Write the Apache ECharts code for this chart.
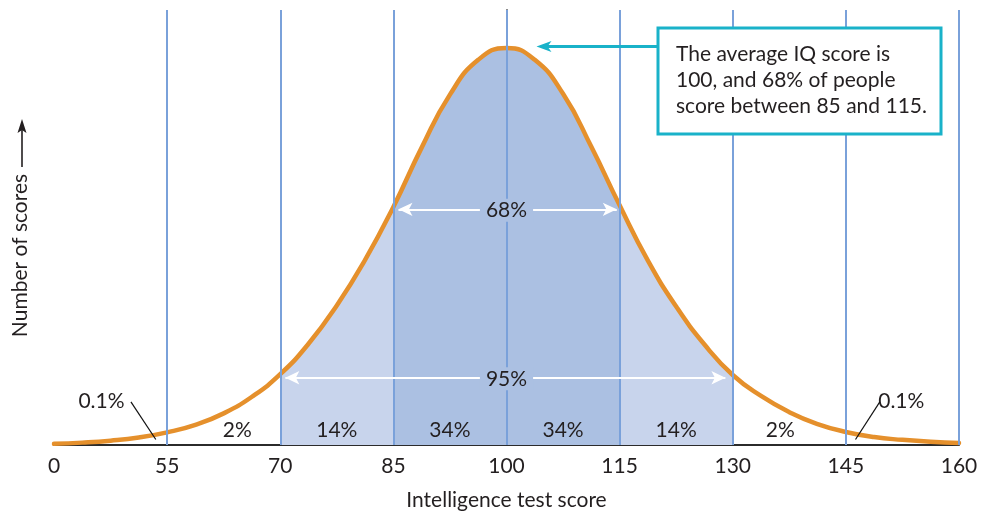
<!DOCTYPE html>
<html>
<head>
<meta charset="utf-8">
<title>Distribution of IQ scores</title>
<script src="https://cdn.jsdelivr.net/npm/echarts@6/dist/echarts.min.js"></script>
<style>
  html, body { margin: 0; padding: 0; background: #ffffff; }
  #chart { width: 983px; height: 516px; }
</style>
</head>
<body>
<div id="chart"></div>
<script>
// Score axis in standard deviations from the mean (mean 100, SD 15).
const sigmaSteps = [-4, -3.75, -3.5, -3.25, -3, -2.75, -2.5, -2.25, -2, -1.75, -1.5, -1.25, -1, -0.75, -0.5, -0.25,
                    0, 0.25, 0.5, 0.75, 1, 1.25, 1.5, 1.75, 2, 2.25, 2.5, 2.75, 3, 3.25, 3.5, 3.75, 4];
// Relative number of scores at each step (peak about 100).
const curveHeights = [0.3, 0.6, 1.1, 1.9, 3.2, 5.1, 8.0, 12.2, 17.9, 25.6, 35.3, 46.8, 60.2, 75.2, 88.6, 97.4,
                      100.4, 97.4, 88.8, 75.4, 60.6, 46.6, 35.0, 25.4, 17.7, 12.4, 8.3, 5.3, 3.3, 2.0, 1.3, 0.8, 0.5];
const tickPositions = [-4, -3, -2, -1, 0, 1, 2, 3, 4];
const tickLabels = ['0', '55', '70', '85', '100', '115', '130', '145', '160'];
const bandShares = ['2%', '14%', '34%', '34%', '14%', '2%'];
const tailShare = '0.1%';
const rangeShares = ['68%', '95%'];
const calloutText = ['The average IQ score is', '100, and 68% of people', 'score between 85 and 115.'];

const FONT = 'Lato, "Open Sans", "DejaVu Sans", sans-serif';
const INK = '#231f20';
const ORANGE = '#e5902c';
const LIGHT_FILL = '#c8d4ec';
const DARK_FILL = '#abc0e2';
const GRID_BLUE = '#7aa1da';
const TEAL = '#19b2c9';
const NONE = 'rgba(255,255,255,0)';

const curve = sigmaSteps.map((s, i) => [s, curveHeights[i]]);
const labelOf = {};
tickPositions.forEach((p, i) => { labelOf[p] = tickLabels[i]; });

const chart = echarts.init(document.getElementById('chart'), null, { renderer: 'canvas' });

const arrowEnd = { symbol: 'arrow', symbolSize: [10, 14] };
const whiteLine = { color: '#ffffff', width: 2, type: 'solid' };

const option = {
  animation: false,
  backgroundColor: '#ffffff',
  grid: { left: 54, right: 24, top: 10, bottom: 69, containLabel: false },
  xAxis: {
    type: 'value', min: -4, max: 4, interval: 1,
    name: 'Intelligence test score', nameLocation: 'middle', nameGap: 45,
    nameTextStyle: { fontFamily: FONT, fontSize: 21, color: INK },
    axisLine: { show: true, lineStyle: { color: '#2b2b2b', width: 2 } },
    axisTick: { show: false },
    splitLine: { show: false },
    axisLabel: {
      margin: 11, fontFamily: FONT, fontSize: 21, color: INK,
      formatter: v => labelOf[v] !== undefined ? labelOf[v] : ''
    }
  },
  yAxis: {
    type: 'value', min: 0, max: 110,
    name: 'Number of scores', nameLocation: 'middle', nameGap: 23, nameRotate: 90,
    // the trailing padding leaves room for the upward arrow drawn after the words
    nameTextStyle: { fontFamily: FONT, fontSize: 21, color: INK, padding: [0, 56, 0, 0] },
    axisLine: { show: true, lineStyle: { color: '#666666', width: 2 } },
    axisTick: { show: false },
    axisLabel: { show: false },
    splitLine: { show: false }
  },
  visualMap: {
    show: false, type: 'piecewise', seriesIndex: 0, dimension: 0,
    pieces: [
      { lt: -2, color: NONE },
      { gte: -2, lt: -1, color: LIGHT_FILL },
      { gte: -1, lte: 1, color: DARK_FILL },
      { gt: 1, lte: 2, color: LIGHT_FILL },
      { gt: 2, color: NONE }
    ]
  },
  series: [
    {
      // shaded bands under the curve, vertical guides and range arrows
      name: 'bands', type: 'line', data: curve, smooth: 0.5, z: 1,
      showSymbol: false, symbol: 'none', silent: true,
      lineStyle: { width: 0 },
      areaStyle: { opacity: 1 },
      markLine: {
        silent: true, animation: false, symbol: ['none', 'none'],
        label: { show: false },
        data: tickPositions.slice(1).map(p => ({
          xAxis: p,
          lineStyle: { color: GRID_BLUE, width: 2, type: 'solid' }
        })).concat([
          [
            Object.assign({ coord: [-0.955, 59.6], lineStyle: whiteLine }, arrowEnd),
            Object.assign({ coord: [0.975, 59.6] }, arrowEnd)
          ],
          [
            Object.assign({ coord: [-1.955, 17.0], lineStyle: whiteLine }, arrowEnd),
            Object.assign({ coord: [1.935, 17.0] }, arrowEnd)
          ]
        ])
      }
    },
    {
      name: 'Number of scores', type: 'line', data: curve, smooth: 0.5, z: 3,
      showSymbol: false, symbol: 'none', silent: true,
      lineStyle: { color: ORANGE, width: 4.5, cap: 'round' },
      itemStyle: { color: ORANGE }
    }
  ]
};

chart.setOption(option);

const px = (s, v) => chart.convertToPixel({ gridIndex: 0 }, [s, v]);
const graphics = [];
const text = (x, y, str, extra) => ({
  type: 'text', x: x, y: y, silent: true, z: 50,
  style: Object.assign({ text: str, fontFamily: FONT, fontSize: 21, fill: INK, align: 'center', verticalAlign: 'middle' }, extra || {})
});

// share of scores in each band
const bandCenters = [-2.38, -1.5, -0.5, 0.5, 1.5, 2.42];
bandShares.forEach((share, i) => {
  const p = px(bandCenters[i], 3.8);
  graphics.push(text(p[0], p[1], share));
});

// tails beyond three standard deviations
[[-3.58, -3.32, -3.1], [3.49, 3.3, 3.085]].forEach(([labelAt, from, to]) => {
  const lp = px(labelAt, 11.0);
  graphics.push(text(lp[0], lp[1], tailShare));
  const a = px(from, 10.9), b = px(to, 1.4);
  graphics.push({ type: 'line', silent: true, z: 50,
    shape: { x1: a[0], y1: a[1], x2: b[0], y2: b[1] },
    style: { stroke: '#111111', lineWidth: 1.2 } });
});

// labels sitting on the range arrows
[59.6, 17.0].forEach((h, i) => {
  const p = px(0, h);
  graphics.push(text(p[0], p[1] + 1, rangeShares[i], { backgroundColor: DARK_FILL, padding: [2, 6, 0, 6] }));
});

// upward arrow after the vertical axis title
const axisX = px(-4, 0)[0];
const titleX = axisX - 32;
graphics.push({ type: 'line', silent: true, z: 50,
  shape: { x1: titleX, y1: 167, x2: titleX, y2: 128 },
  style: { stroke: INK, lineWidth: 1.6 } });
graphics.push({ type: 'polygon', silent: true, z: 50,
  shape: { points: [[titleX, 119], [titleX + 4.5, 133], [titleX, 130], [titleX - 4.5, 133]] },
  style: { fill: INK } });

// callout pointing at the mean
const peak = px(0, Math.max.apply(null, curveHeights));
const box = { x: 658, y: 28, w: 283, h: 106 };
const arrowY = peak[1] - 1.5;
const tipX = peak[0] + 30;
graphics.push({ type: 'line', silent: true, z: 60,
  shape: { x1: box.x, y1: arrowY, x2: tipX + 10, y2: arrowY },
  style: { stroke: TEAL, lineWidth: 3 } });
graphics.push({ type: 'polygon', silent: true, z: 60,
  shape: { points: [[tipX, arrowY], [tipX + 15, arrowY - 5.5], [tipX + 11, arrowY], [tipX + 15, arrowY + 5.5]] },
  style: { fill: TEAL } });
graphics.push({ type: 'rect', silent: true, z: 60,
  shape: { x: box.x, y: box.y, width: box.w, height: box.h },
  style: { fill: '#ffffff', stroke: TEAL, lineWidth: 3 } });
const callout = text(box.x + 18, box.y + 13, calloutText.join('\n'),
  { align: 'left', verticalAlign: 'top', fontSize: 21, lineHeight: 26 });
callout.z = 61;
graphics.push(callout);

chart.setOption({ graphic: { elements: graphics } });
</script>
</body>
</html>
